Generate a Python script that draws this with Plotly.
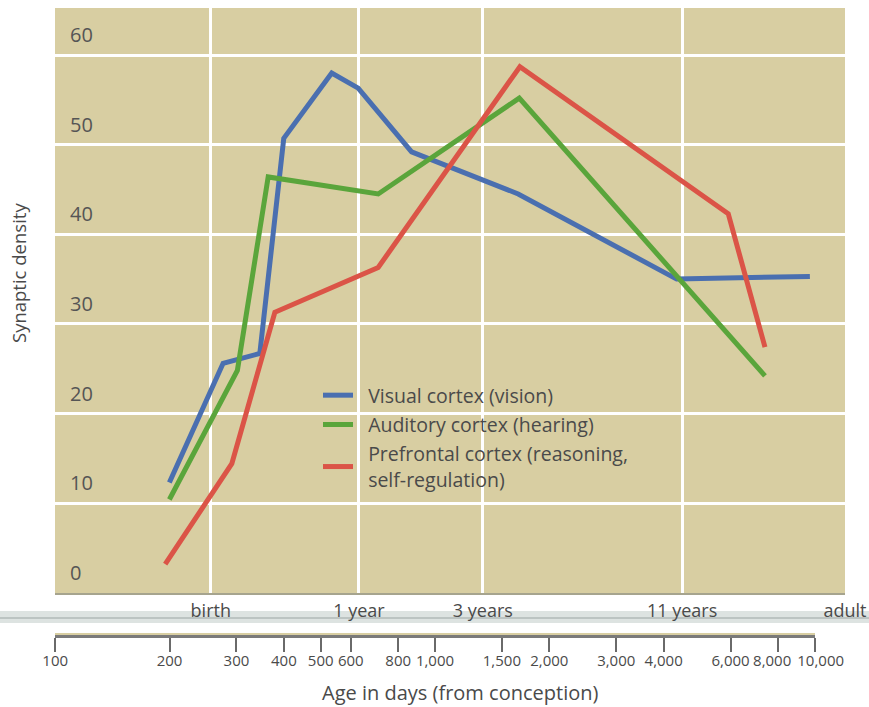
import plotly.graph_objects as go

# ---- data ----
visual_days = [200, 277, 346, 400, 535, 628, 868, 1656, 4327, 9700]
visual_density = [12.3, 25.6, 26.7, 50.7, 58.0, 56.3, 49.2, 44.5, 35.0, 35.3]

auditory_days = [200, 302, 364, 709, 1667, 7389]
auditory_density = [10.4, 24.8, 46.4, 44.5, 55.2, 24.2]

prefrontal_days = [195, 292, 379, 709, 1673, 5914, 7389]
prefrontal_density = [3.2, 14.4, 31.3, 36.3, 58.7, 42.3, 27.4]

series_names = ["Visual cortex (vision)", "Auditory cortex (hearing)",
                "Prefrontal cortex (reasoning,<br>self-regulation)"]

milestone_days = [257, 631, 1337, 4470, 12000]
milestone_labels = ["birth", "1 year", "3 years", "11 years", "adult"]

day_ticks = [100, 200, 300, 400, 500, 600, 800, 1000, 1500, 2000, 3000, 4000, 6000, 8000, 10000]
day_tick_labels = ["100", "200", "300", "400", "500", "600", "800", "1,000", "1,500",
                   "2,000", "3,000", "4,000", "6,000", "8,000", "10,000"]

density_ticks = [0, 10, 20, 30, 40, 50, 60]

# ---- layout helpers (pixel -> paper) ----
W, H = 869, 707
ML, MR, MT, MB = 55, 24, 8, 8
PW, PH = W - ML - MR, H - MT - MB


def px_x(x):
    return (x - ML) / PW


def px_y(y):
    return (H - MB - y) / PH


NB = "\u00a0\u00a0"  # small gap between legend swatch and text


def legend_label(name):
    return NB + name.replace("<br>", "<br>" + NB)


def tick_label(lbl, val):
    # nudge the two crowded right-most labels apart
    if val == 8000:
        return lbl + "\u00a0\u00a0\u00a0"
    if val == 10000:
        return "\u00a0\u00a0\u00a0" + lbl
    return lbl


FONT = "Open Sans"
TXT = "#4a4a4a"
colors = ["#4a6fb0", "#5aa53b", "#db5447"]

fig = go.Figure()
for i, (xs, ys) in enumerate([(visual_days, visual_density),
                              (auditory_days, auditory_density),
                              (prefrontal_days, prefrontal_density)]):
    fig.add_trace(go.Scatter(x=xs, y=ys, mode="lines", name=legend_label(series_names[i]),
                             legendgroup=f"g{i}",
                             line=dict(color=colors[i], width=5)))

# empty trace on its own thin subplot so the lower day axis is drawn
fig.add_trace(go.Scatter(x=[], y=[], xaxis="x2", yaxis="y2",
                         showlegend=False, hoverinfo="skip"))

plot_bottom = 593
eps = 0.0005
fig.update_layout(
    width=W, height=H,
    margin=dict(l=ML, r=MR, t=MT, b=MB, autoexpand=False),
    paper_bgcolor="white",
    plot_bgcolor="#d8cea2",
    font=dict(family=FONT, size=18, color=TXT),
    showlegend=True,
    legend=dict(x=px_x(318), y=px_y(376), xanchor="left", yanchor="top",
                bgcolor="rgba(0,0,0,0)", font=dict(family=FONT, size=19.5, color=TXT),
                traceorder="grouped", tracegroupgap=1),
    xaxis=dict(type="log", range=[2, 4.0792], domain=[0, 1], automargin=False,
               anchor="y",
               tickvals=milestone_days, ticktext=milestone_labels, tickangle=0,
               ticks="", showgrid=True, gridcolor="white", gridwidth=3,
               showline=True, linecolor="#a6a48e", linewidth=2,
               tickfont=dict(family=FONT, size=18, color=TXT),
               zeroline=False),
    yaxis=dict(range=[-0.03, 65.25], domain=[px_y(plot_bottom), 1], automargin=False,
               anchor="x",
               tickvals=density_ticks, ticklabelposition="inside top",
               ticklabelstandoff=12, ticklabelshift=-6,
               showgrid=True, gridcolor="white", gridwidth=3,
               zeroline=False, showline=False, ticks="",
               tickfont=dict(family=FONT, size=20, color="#555555")),
    xaxis2=dict(type="log", range=[2 - eps, 4 + eps], domain=[0, 760 / PW],
                automargin=False, anchor="y2",
                tickvals=day_ticks,
                ticktext=[tick_label(t, v) for t, v in zip(day_tick_labels, day_ticks)],
                tickangle=0,
                ticks="outside", ticklen=14, tickwidth=1.5, tickcolor="#6a6a6a",
                ticklabelstandoff=-4,
                showline=True, linecolor="#7a7a7a", linewidth=2.5,
                showgrid=False, zeroline=False,
                tickfont=dict(family=FONT, size=15, color=TXT)),
    yaxis2=dict(domain=[px_y(635), px_y(633)], anchor="x2", visible=False,
                range=[0, 1], showgrid=False, zeroline=False, automargin=False),
)

# grey band behind the milestone labels
fig.add_shape(type="rect", xref="paper", yref="paper",
              x0=px_x(0), x1=px_x(W), y0=px_y(623), y1=px_y(611),
              fillcolor="#dde3e1", line=dict(width=0), layer="below")
fig.add_shape(type="line", xref="paper", yref="paper",
              x0=px_x(0), x1=px_x(W), y0=px_y(618), y1=px_y(618),
              line=dict(color="#bcc4c2", width=2), layer="below")

fig.add_annotation(text="Age in days (from conception)", xref="paper", yref="paper",
                   x=px_x(460), y=px_y(692), xanchor="center", yanchor="middle",
                   showarrow=False, font=dict(family=FONT, size=20, color=TXT))
fig.add_annotation(text="Synaptic density", xref="paper", yref="paper",
                   x=px_x(18), y=px_y(273), xanchor="center", yanchor="middle",
                   textangle=-90, showarrow=False,
                   font=dict(family=FONT, size=18.5, color=TXT))

fig.write_html("out.html", config={"displayModeBar": False},
               post_script="document.body.style.margin='0';")
